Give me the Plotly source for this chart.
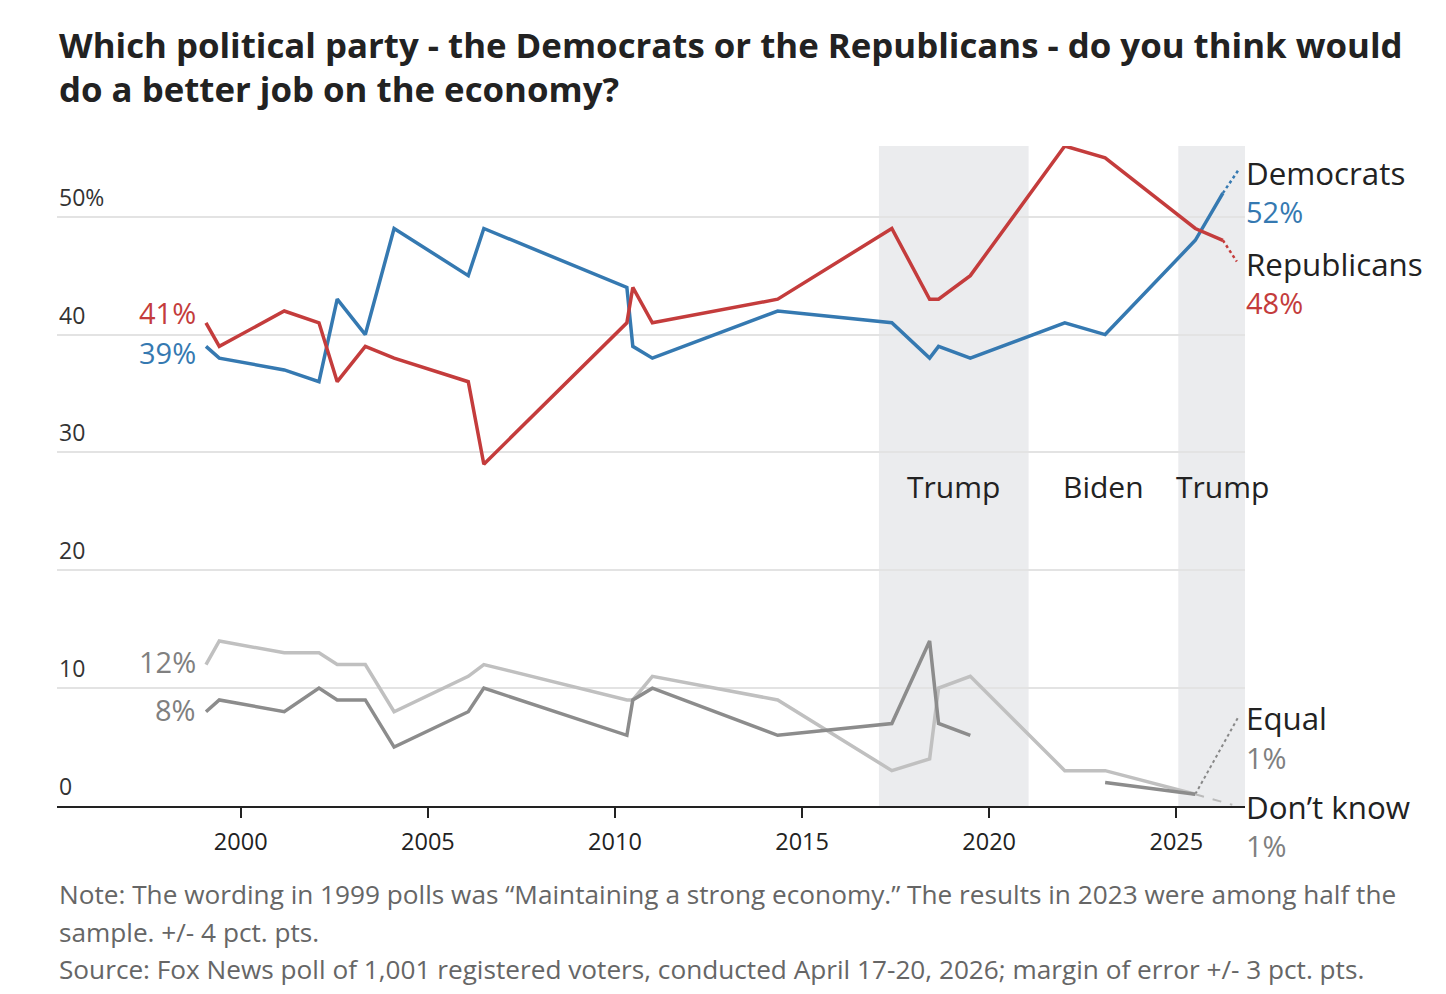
import plotly.graph_objects as go

# ---------------- data ----------------
dates = ["1999-01-27", "1999-06-06", "2001-03-01", "2002-02-03", "2002-07-31",
         "2003-05-01", "2004-02-06", "2006-01-30", "2006-07-01", "2010-04-27",
         "2010-06-24", "2011-01-01", "2014-05-08", "2017-05-26", "2018-05-30",
         "2018-08-25", "2019-07-01", "2022-01-08", "2023-02-06", "2025-07-05",
         "2026-03-31"]
democrats = [39, 38, 37, 36, 43, 40, 49, 45, 49, 44, 39, 38, 42, 41, 38, 39, 38, 41, 40, 48, 52]
republicans = [41, 39, 42, 41, 36, 39, 38, 36, 29, 41, 44, 41, 43, 49, 43, 43, 45, 56, 55, 49, 48]
equal = [8, 9, 8, 10, 9, 9, 5, 8, 10, 6, 9, 10, 6, 7, 14, 7, 6, None, 2, 1, None]
dont_know = [12, 14, 13, 13, 12, 12, 8, 11, 12, 9, 9, 11, 9, 3, 4, 10, 11, 3, 3, 1, None]

series_names = ["Democrats", "Republicans", "Equal", "Don\u2019t know"]
last_labels = ["52%", "48%", "1%", "1%"]
first_labels = ["39%", "41%", "8%", "12%"]

periods = ["Trump", "Biden", "Trump"]
trump_terms = [("2017-01-20", "2021-01-20"), ("2025-01-20", "2026-11-02")]

y_ticks = [0, 10, 20, 30, 40, 50]
y_tick_text = ["0", "10", "20", "30", "40", "50%"]
x_ticks = ["2000-01-01", "2005-01-01", "2010-01-01", "2015-01-01", "2020-01-01", "2025-01-01"]
x_tick_text = ["2000", "2005", "2010", "2015", "2020", "2025"]

title_lines = ["Which political party - the Democrats or the Republicans - do you think would",
               "do a better job on the economy?"]
note_lines = ["Note: The wording in 1999 polls was \u201cMaintaining a strong economy.\u201d The results in 2023 were among half the",
              "sample. +/- 4 pct. pts.",
              "Source: Fox News poll of 1,001 registered voters, conducted April 17-20, 2026; margin of error +/- 3 pct. pts."]

# ---------------- style ----------------
FONT = "Open Sans"
BLUE = "#3579b1"
RED = "#c43c3c"
DARK_GRAY = "#8c8c8c"
LIGHT_GRAY = "#c0c0c0"
TEXT = "#222222"
MUTED = "#808080"
SHADE = "#ebecee"

W, H = 1446, 994
L, R, T, B = 57, 201, 146, 188
PW, PH = W - L - R, H - T - B


def py(y_px):
    return (H - B - y_px) / PH


fig = go.Figure()

series = [(dont_know, LIGHT_GRAY), (equal, DARK_GRAY), (democrats, BLUE), (republicans, RED)]
for vals, col in series:
    fig.add_trace(go.Scatter(x=dates, y=vals, mode="lines",
                             line=dict(color=col, width=3.5),
                             connectgaps=False, hoverinfo="skip", showlegend=False))

# dotted connectors from last point toward the right-hand labels
connector_ends = {
    "Democrats": ("2026-08-25", 53.9),
    "Republicans": ("2026-08-14", 46.2),
    "Equal": ("2026-09-01", 7.6),
    "Don\u2019t know": ("2026-07-01", 0.1),
}
name_map = [("Democrats", democrats, BLUE, 2.5, "dot"),
            ("Republicans", republicans, RED, 2.5, "dot"),
            ("Equal", equal, "#888888", 2, "dot"),
            ("Don\u2019t know", dont_know, "#bbbbbb", 2, "dash")]
for name, vals, col, w, dash in name_map:
    idx = max(i for i, v in enumerate(vals) if v is not None)
    ex, ey = connector_ends[name]
    fig.add_trace(go.Scatter(x=[dates[idx], ex], y=[vals[idx], ey], mode="lines",
                             line=dict(color=col, width=w, dash=dash),
                             hoverinfo="skip", showlegend=False))

shapes = []
for x0, x1 in trump_terms:
    shapes.append(dict(type="rect", xref="x", yref="paper", x0=x0, x1=x1, y0=0, y1=1,
                       fillcolor=SHADE, line=dict(width=0), layer="below"))

annotations = []
# title
for line, ypx in zip(title_lines, [45, 88]):
    annotations.append(dict(text="<b>" + line + "</b>", xref="paper", yref="paper", x=0, y=py(ypx),
                            xanchor="left", yanchor="middle", align="left", showarrow=False,
                            font=dict(family=FONT, size=34.8, color=TEXT)))
# note
for line, ypx in zip(note_lines, [894, 932, 969]):
    annotations.append(dict(text=line, xref="paper", yref="paper", x=0, y=py(ypx),
                            xanchor="left", yanchor="middle", align="left", showarrow=False,
                            font=dict(family=FONT, size=26.2, color="#666666")))
# y tick labels above gridlines
for v, t in zip(y_ticks, y_tick_text):
    annotations.append(dict(text=t, xref="paper", yref="y", x=0, y=v, yshift=20,
                            xanchor="left", yanchor="middle", showarrow=False,
                            font=dict(family=FONT, size=23, color="#333333")))
# period labels
period_x = ["2019-01-20", "2023-01-20", "2026-03-31"]
for p, xx in zip(periods, period_x):
    annotations.append(dict(text=p, xref="x", yref="y", x=xx, y=27.1,
                            xanchor="center", yanchor="middle", showarrow=False,
                            font=dict(family=FONT, size=30, color=TEXT)))
# left labels (first values)
first_vals = [democrats[0], republicans[0], equal[0], dont_know[0]]
first_cols = [BLUE, RED, MUTED, MUTED]
first_shift = [-6, 10, 2, 3]
for lab, v, c, s in zip(first_labels, first_vals, first_cols, first_shift):
    annotations.append(dict(text=lab, xref="x", yref="y", x=dates[0], y=v, xshift=-8, yshift=s,
                            xanchor="right", yanchor="middle", showarrow=False,
                            font=dict(family=FONT, size=29, color=c)))
# right labels
pct_cols = [BLUE, RED, MUTED, MUTED]
for (name, vals, _, _, _), pl, pc in zip(name_map, last_labels, pct_cols):
    ey = connector_ends[name][1]
    annotations.append(dict(text=name, xref="paper", yref="y", x=1, y=ey, yshift=-2, xshift=-1,
                            xanchor="left", yanchor="middle", showarrow=False,
                            font=dict(family=FONT, size=31.3, color=TEXT)))
    annotations.append(dict(text=pl, xref="paper", yref="y", x=1, y=ey, yshift=-41, xshift=-1,
                            xanchor="left", yanchor="middle", showarrow=False,
                            font=dict(family=FONT, size=29, color=pc)))

fig.update_layout(
    width=W, height=H,
    margin=dict(l=L, r=R, t=T, b=B, pad=0),
    paper_bgcolor="white", plot_bgcolor="white",
    shapes=shapes, annotations=annotations,
    font=dict(family=FONT, color=TEXT),
    xaxis=dict(type="date", range=["1995-02-03", "2026-11-02"],
               tickvals=x_ticks, ticktext=x_tick_text,
               ticks="outside", ticklen=10, tickwidth=2, tickcolor="#222222",
               ticklabelstandoff=4,
               showgrid=False, zeroline=False,
               showline=True, linecolor="#222222", linewidth=2,
               tickfont=dict(family=FONT, size=23.5, color=TEXT)),
    yaxis=dict(range=[0, 56], tickvals=y_ticks[1:], showticklabels=False,
               showgrid=True, gridcolor="#e3e3e3", gridwidth=2,
               zeroline=False, showline=False, ticks=""),
)

fig.write_html("out.html")
